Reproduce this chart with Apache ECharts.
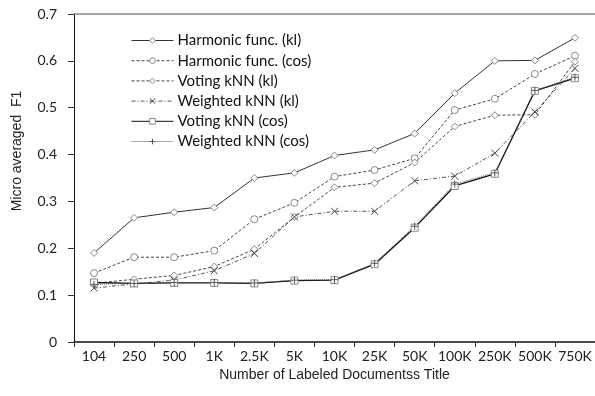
<!DOCTYPE html>
<html><head><meta charset="utf-8">
<script src="https://cdn.jsdelivr.net/npm/echarts@6/dist/echarts.min.js"></script>
<style>html,body{margin:0;padding:0;background:#fff}#c{width:595px;height:396px}</style>
</head><body><div id="c"></div>
<script>
var categories = ['104','250','500','1K','2.5K','5K','10K','25K','50K','100K','250K','500K','750K'];
var yTicks = [0,0.1,0.2,0.3,0.4,0.5,0.6,0.7];
var harmonicKl  = [0.190,0.265,0.277,0.287,0.350,0.361,0.398,0.410,0.445,0.531,0.600,0.601,0.649];
var harmonicCos = [0.147,0.181,0.181,0.195,0.262,0.297,0.353,0.367,0.392,0.495,0.519,0.572,0.611];
var votingKl    = [0.125,0.134,0.142,0.161,0.198,0.267,0.330,0.339,0.383,0.460,0.484,0.485,0.598];
var weightedKl  = [0.115,0.124,0.132,0.152,0.189,0.267,0.279,0.279,0.344,0.354,0.403,0.491,0.584];
var votingCos   = [0.127,0.125,0.126,0.126,0.125,0.131,0.132,0.166,0.244,0.333,0.359,0.536,0.563];
var weightedCos = [0.123,0.125,0.127,0.127,0.126,0.132,0.133,0.168,0.247,0.337,0.361,0.537,0.565];
var seriesNames = ['Harmonic func. (kl)','Harmonic func. (cos)','Voting kNN (kl)','Weighted kNN (kl)','Voting kNN (cos)','Weighted kNN (cos)'];

var FONT = 'Lato';
var X_SYM = 'path://M0,0L10,10M10,0L0,10';
var P_SYM = 'path://M5,0L5,10M0,5L10,5';
function mk(name, data, sym, size, lcolor, lwidth, ltype, mcolor){
  return {name:name, type:'line', data:data, symbol:sym, symbolSize:size, showSymbol:true,
    lineStyle:{color:lcolor, width:lwidth, type:ltype},
    itemStyle:{color:'#fff', borderColor:mcolor, borderWidth:1},
    emphasis:{disabled:true}, animation:false};
}
var chart = echarts.init(document.getElementById('c'), null, {renderer:'canvas'});
chart.setOption({
  animation:false,
  grid:{left:74, top:14, right:-1, bottom:54, containLabel:false},
  legend:{orient:'vertical', left:131, top:33, padding:0, itemWidth:42, itemHeight:7, itemGap:5.2,
    data:seriesNames, lineStyle:{width:1}, itemStyle:{borderWidth:1},
    textStyle:{fontFamily:FONT, fontSize:15, color:'#111', lineHeight:15, padding:[0,0,0,-1]}},
  xAxis:[{type:'category', data:categories, boundaryGap:true,
    name:'Number of Labeled Documentss Title', nameLocation:'middle', nameGap:26,
    nameTextStyle:{fontFamily:'Liberation Sans', fontSize:14, color:'#222'},
    axisLine:{lineStyle:{color:'#111', width:1.5}},
    axisTick:{show:true, length:5, inside:false, alignWithLabel:false, lineStyle:{color:'#333'}},
    axisLabel:{fontFamily:FONT, fontSize:14, color:'#222', margin:7, interval:0},
    splitLine:{show:false}},
   {type:'category', data:categories, position:'top', axisLine:{lineStyle:{color:'#888', width:1.5}},
    axisTick:{show:false}, axisLabel:{show:false}, splitLine:{show:false}}],
  yAxis:{type:'value', min:0, max:0.7, interval:0.1,
    axisLine:{show:true, lineStyle:{color:'#111', width:1}},
    axisTick:{show:true, length:6, lineStyle:{color:'#333'}},
    axisLabel:{fontFamily:FONT, fontSize:14, color:'#222', margin:17,
      formatter:function(v){ return String(yTicks[Math.round(v*10)]); }},
    splitLine:{show:false}},
  graphic:[{type:'text', x:17, y:151, rotation:Math.PI/2,
    style:{text:'Micro averaged  F1', fontFamily:'Liberation Sans', fontSize:14, fill:'#222', align:'center', verticalAlign:'middle'}}],
  series:[
    mk(seriesNames[0], harmonicKl, 'diamond', 7, '#333', 1, 'solid', '#888'),
    mk(seriesNames[1], harmonicCos, 'circle', 7, '#444', 1, [3,2], '#888'),
    mk(seriesNames[2], votingKl, 'diamond', 7, '#444', 1, [3,2], '#888'),
    mk(seriesNames[3], weightedKl, X_SYM, 7, '#555', 1, [4,2,1,2], '#444'),
    mk(seriesNames[4], votingCos, 'rect', 7, '#111', 1.3, 'solid', '#888'),
    mk(seriesNames[5], weightedCos, P_SYM, 7, '#555', 1, [1,1], '#555')
  ]
});
</script></body></html>
